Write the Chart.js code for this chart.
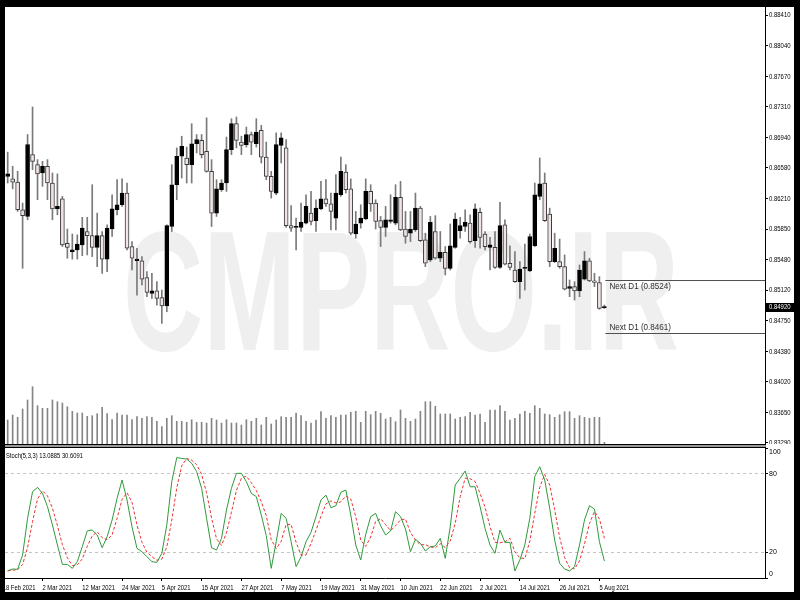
<!DOCTYPE html>
<html>
<head>
<meta charset="utf-8">
<title>EURGBP D1 - Stoch</title>
<script src="https://cdn.jsdelivr.net/npm/chart.js@4.4.1/dist/chart.umd.min.js"></script>
<style>
  html, body { margin: 0; padding: 0; background: #000; }
  #frame { position: relative; width: 800px; height: 600px; background: #000; overflow: hidden; }
  #win { position: absolute; left: 5px; top: 7px; width: 789px; height: 585px; background: #fff; }
  #main { position: absolute; left: 5px; top: 7px; }
  #stoch { position: absolute; left: 5px; top: 447px; }
  #sep { position: absolute; left: 5px; top: 444px; width: 761px; height: 2px;
         border-top: 1px solid #000; border-bottom: 1px solid #000; background: #9a9a9a; box-sizing: content-box; }
</style>
</head>
<body>
<div id="frame">
  <div id="win"></div>
  <canvas id="main" width="789" height="437"></canvas>
  <div id="sep"></div>
  <canvas id="stoch" width="789" height="145"></canvas>
</div>
<script>
// tick labels
const priceTicks = [0.88410, 0.88040, 0.87670, 0.87310, 0.86940, 0.86580, 0.86210, 0.85850,
                    0.85480, 0.85120, 0.84750, 0.84380, 0.84020, 0.83650, 0.83290];
const stochLevels = [0, 20, 80, 100];
const dateIndex = [-1, 7, 15, 23, 31, 39, 47, 55, 63, 71, 79, 87, 95, 103, 111, 119];
const dateLabels = ['18 Feb 2021', '2 Mar 2021', '12 Mar 2021', '24 Mar 2021', '5 Apr 2021',
                    '15 Apr 2021', '27 Apr 2021', '7 May 2021', '19 May 2021', '31 May 2021',
                    '10 Jun 2021', '22 Jun 2021', '2 Jul 2021', '14 Jul 2021', '26 Jul 2021', '5 Aug 2021'];

// daily candles, 19 Feb .. 6 Aug 2021
const open = [0.8648,0.8645,0.8641,0.8608,0.8600,0.8674,0.8662,0.8652,0.8660,0.8640,
  0.8609,0.8621,0.8568,0.8558,0.8560,0.8566,0.8582,0.8577,0.8563,0.8577,
  0.8549,0.8585,0.8608,0.8614,0.8628,0.8564,0.8547,0.8547,0.8527,0.8508,
  0.8511,0.8503,0.8493,0.8588,0.8638,0.8672,0.8670,0.8662,0.8687,0.8691,
  0.8678,0.8654,0.8604,0.8632,0.8640,0.8680,0.8711,0.8689,0.8686,0.8698,
  0.8687,0.8703,0.8671,0.8648,0.8628,0.8685,0.8682,0.8589,0.8587,0.8587,
  0.8592,0.8604,0.8595,0.8609,0.8621,0.8615,0.8598,0.8626,0.8653,0.8633,
  0.8579,0.8592,0.8597,0.8630,0.8616,0.8595,0.8587,0.8594,0.8592,0.8623,
  0.8585,0.8580,0.8584,0.8610,0.8572,0.8548,0.8582,0.8550,0.8557,0.8538,
  0.8563,0.8583,0.8588,0.8592,0.8571,0.8605,0.8579,0.8563,0.8563,0.8539,
  0.8590,0.8544,0.8536,0.8522,0.8538,0.8535,0.8565,0.8624,0.8640,0.8603,
  0.8546,0.8546,0.8540,0.8514,0.8516,0.8511,0.8525,0.8547,0.8523,0.8521,
  0.8491];
const high = [0.8677,0.8660,0.8654,0.8616,0.8698,0.8731,0.8668,0.8666,0.8668,0.8652,
  0.8651,0.8624,0.8585,0.8579,0.8578,0.8599,0.8599,0.8638,0.8604,0.8582,
  0.8590,0.8626,0.8644,0.8645,0.8640,0.8570,0.8562,0.8552,0.8534,0.8532,
  0.8522,0.8512,0.8590,0.8662,0.8682,0.8696,0.8683,0.8711,0.8698,0.8698,
  0.8718,0.8668,0.8644,0.8644,0.8695,0.8717,0.8719,0.8696,0.8707,0.8701,
  0.8717,0.8709,0.8689,0.8654,0.8700,0.8700,0.8692,0.8613,0.8598,0.8616,
  0.8626,0.8630,0.8620,0.8642,0.8644,0.8628,0.8650,0.8671,0.8662,0.8645,
  0.8606,0.8614,0.8645,0.8638,0.8620,0.8600,0.8612,0.8626,0.8638,0.8642,
  0.8606,0.8606,0.8628,0.8612,0.8580,0.8600,0.8601,0.8582,0.8564,0.8591,
  0.8604,0.8599,0.8608,0.8602,0.8615,0.8610,0.8582,0.8575,0.8582,0.8617,
  0.8596,0.8565,0.8558,0.8546,0.8567,0.8579,0.8640,0.8670,0.8652,0.8610,
  0.8580,0.8573,0.8554,0.8524,0.8522,0.8542,0.8558,0.8550,0.8532,0.8528,
  0.8494];
const low = [0.8640,0.8633,0.8606,0.8538,0.8596,0.8656,0.8620,0.8636,0.8620,0.8596,
  0.8602,0.8564,0.8550,0.8549,0.8549,0.8553,0.8554,0.8552,0.8540,0.8532,
  0.8534,0.8576,0.8602,0.8612,0.8560,0.8536,0.8506,0.8518,0.8504,0.8502,
  0.8494,0.8472,0.8486,0.8582,0.8620,0.8646,0.8640,0.8640,0.8676,0.8670,
  0.8653,0.8588,0.8600,0.8630,0.8630,0.8674,0.8682,0.8674,0.8683,0.8674,
  0.8683,0.8664,0.8644,0.8622,0.8626,0.8664,0.8587,0.8582,0.8560,0.8582,
  0.8591,0.8590,0.8582,0.8608,0.8612,0.8584,0.8584,0.8624,0.8628,0.8578,
  0.8574,0.8586,0.8596,0.8606,0.8585,0.8564,0.8576,0.8592,0.8590,0.8583,
  0.8568,0.8570,0.8582,0.8570,0.8540,0.8546,0.8549,0.8546,0.8530,0.8536,
  0.8562,0.8574,0.8582,0.8568,0.8563,0.8562,0.8560,0.8536,0.8538,0.8538,
  0.8542,0.8536,0.8521,0.8502,0.8512,0.8534,0.8564,0.8620,0.8594,0.8540,
  0.8545,0.8538,0.8512,0.8504,0.8500,0.8504,0.8524,0.8522,0.8516,0.8489,
  0.8490];
const close = [0.8651,0.8641,0.8608,0.8601,0.8686,0.8666,0.8651,0.8660,0.8640,0.8609,
  0.8612,0.8566,0.8563,0.8560,0.8567,0.8586,0.8577,0.8563,0.8577,0.8549,
  0.8586,0.8609,0.8614,0.8628,0.8562,0.8550,0.8549,0.8525,0.8509,0.8511,
  0.8502,0.8493,0.8589,0.8638,0.8672,0.8684,0.8662,0.8687,0.8692,0.8674,
  0.8654,0.8604,0.8633,0.8640,0.8680,0.8711,0.8691,0.8685,0.8698,0.8689,
  0.8701,0.8671,0.8648,0.8630,0.8686,0.8694,0.8589,0.8586,0.8588,0.8593,
  0.8612,0.8594,0.8610,0.8621,0.8615,0.8606,0.8628,0.8654,0.8632,0.8580,
  0.8591,0.8598,0.8630,0.8615,0.8594,0.8587,0.8596,0.8596,0.8623,0.8584,
  0.8576,0.8585,0.8610,0.8571,0.8544,0.8593,0.8550,0.8557,0.8538,0.8565,
  0.8597,0.8589,0.8593,0.8570,0.8609,0.8575,0.8564,0.8566,0.8539,0.8589,
  0.8543,0.8539,0.8522,0.8537,0.8539,0.8576,0.8626,0.8639,0.8595,0.8546,
  0.8562,0.8540,0.8513,0.8516,0.8511,0.8536,0.8547,0.8523,0.8521,0.8490,
  0.8492];
// tick volume (thousands)
const volume = [24,29,26.7,35,44,57.3,38.3,35.7,35.7,44,
  42.3,41,37.3,32.7,31,31,27.7,28.3,30.3,36.7,
  30.3,24.3,31,29,29,24.3,27.3,25.7,27.3,26.7,
  22.7,17.3,25.7,28.3,22.7,22.7,21.7,24.3,21.7,21.7,
  21,25.7,24,21,24.3,21,21,19,24.3,22.7,
  25.7,19,26.7,20,24,27.3,26.7,26.7,31,28.3,
  22.7,21,24,32.3,25.7,28.3,26.7,29,29,31.7,
  32.7,21.7,32.7,29.3,32.7,30.7,25,26.7,22.3,34,
  25.7,22.7,25,32.7,42.3,42.3,37.7,30,30,30,
  25,26.7,27.3,31.7,29,30,21.7,34,34,38.3,
  32.7,24,25.7,30,32.7,30.7,38.3,35.7,30,29.3,
  26.7,29.3,32.3,32.3,25.7,28.3,26.7,25.7,26.7,26.7,
  1.7];
// Stoch(5,3,3)
const stochK = [5.6,6.9,6.7,17.7,45.9,66.4,69.7,65.1,54.9,40.8,
  25.4,10.5,10.5,7.4,12.6,24.1,36.2,36.9,33.1,23.3,
  31.8,44.6,61.3,75.4,60.0,39.5,22.8,20.2,16.4,12.6,
  12.0,19.0,40.8,74.1,92.6,92.0,91.5,88.2,81.8,69.0,
  45.9,23.3,21.5,30.5,52.3,69.0,80.5,80.5,74.1,65.1,
  62.6,48.4,32.6,7.4,27.9,49.7,45.9,27.9,8.7,16.4,
  27.9,35.1,47.2,60.0,63.8,54.1,55.6,65.9,67.7,48.4,
  25.4,13.8,33.6,47.2,49.7,40.2,33.1,36.2,51.0,47.2,
  37.7,20.2,29.7,26.7,20.8,24.1,24.6,30.5,15.1,39.5,
  71.5,76.7,82.3,70.2,70.2,54.9,38.2,25.4,19.0,36.9,
  27.4,27.4,5.4,13.8,25.4,45.9,78.0,85.6,75.4,53.6,
  29.2,11.3,6.9,5.4,8.7,25.4,44.6,55.6,53.1,27.9,
  13.0885];
const stochD = [5.5,6.0,6.4,10.4,23.4,43.3,60.7,67.1,63.2,53.6,
  40.4,25.6,15.5,9.5,10.2,14.7,24.3,32.4,35.4,31.1,
  29.4,33.2,45.9,60.4,65.6,58.3,40.8,27.5,19.8,16.4,
  13.7,14.5,23.9,44.6,69.2,86.2,92.0,90.6,87.2,79.7,
  65.6,46.1,30.2,25.1,34.8,50.6,67.3,76.7,78.4,73.2,
  67.3,58.7,47.9,29.5,22.6,28.3,41.2,41.2,27.5,17.7,
  17.7,26.5,36.7,47.4,57.0,59.3,57.8,58.5,63.1,60.7,
  47.2,29.2,24.3,31.5,43.5,45.7,41.0,36.5,40.1,44.8,
  45.3,35.0,29.2,25.5,25.7,23.9,23.2,26.4,23.4,28.4,
  42.0,62.6,76.8,76.4,74.2,65.1,54.4,39.5,27.5,27.1,
  27.8,30.6,20.1,15.5,14.9,28.4,49.8,69.8,79.7,71.5,
  52.7,31.4,15.8,7.9,7.0,13.2,26.2,41.9,51.1,45.5,
  30.6091];
const nextD1 = [0.8524, 0.8461];
const lastPrice = 0.84920;

const X_MIN = -0.54, X_MAX = 152.3;
const FONT = '"Liberation Sans", Arial, sans-serif';
Chart.defaults.font.family = FONT;
Chart.defaults.color = '#000';

// small condensed text, like the squeezed terminal font
function narrowText(ctx, text, x, y, size, sx, baseline, color) {
    ctx.save();
    ctx.font = size + 'px ' + FONT;
    ctx.fillStyle = color || '#000';
    ctx.textAlign = 'left';
    ctx.textBaseline = baseline || 'middle';
    ctx.translate(x, y);
    ctx.scale(sx, 1);
    ctx.fillText(text, 0, 0);
    ctx.restore();
}

// watermark + Next D1 levels + price labels + current price box
const mainDecor = {
    id: 'mainDecor',
    beforeDatasetsDraw(chart) {
        const ctx = chart.ctx;
        ctx.save();
        ctx.font = 'bold 170px ' + FONT;
        const w = ctx.measureText('CMPRO.IR').width;
        ctx.translate(396, 343);
        ctx.scale(556 / w, 1);
        ctx.fillStyle = '#efefef';
        ctx.textAlign = 'center';
        ctx.textBaseline = 'alphabetic';
        ctx.fillText('CMPRO.IR', 0, 0);
        ctx.restore();
    },
    afterDraw(chart) {
        const ctx = chart.ctx;
        const xs = chart.scales.x, ys = chart.scales.y;
        const area = chart.chartArea;
        const x0 = xs.getPixelForValue(close.length - 1) + 1;

        ys.ticks.forEach(t => {
            narrowText(ctx, t.value.toFixed(5), area.right + 4, ys.getPixelForValue(t.value) + 0.5, 7, 0.85);
        });

        nextD1.forEach((lvl, k) => {
            const y = Math.round(ys.getPixelForValue(lvl)) + 0.5;
            ctx.save();
            ctx.strokeStyle = '#505050';
            ctx.lineWidth = 1;
            ctx.beginPath();
            ctx.moveTo(x0, y);
            ctx.lineTo(area.right, y);
            ctx.stroke();
            ctx.restore();
            narrowText(ctx, 'Next D1 (' + lvl.toFixed(4) + ')', x0 + 4,
                       k === 0 ? y + 2 : y - 1, 9, 0.9, k === 0 ? 'top' : 'bottom', '#303030');
        });

        const py = Math.round(ys.getPixelForValue(lastPrice));
        ctx.fillStyle = '#000';
        ctx.fillRect(area.right + 1, py - 4, chart.width - area.right - 1, 9);
        narrowText(ctx, lastPrice.toFixed(5), area.right + 4, py + 0.5, 7, 0.85, 'middle', '#fff');
    }
};

const up = close.map((c, i) => c >= open[i]);

new Chart(document.getElementById('main'), {
    type: 'bar',
    data: {
        datasets: [
            {
                label: 'body',
                data: close.map((c, i) => ({ x: i, y: [open[i], c] })),
                backgroundColor: up.map(u => u ? '#000' : '#f0e4e4'),
                borderColor: up.map(u => u ? '#000' : '#3a3a3a'),
                borderWidth: 1,
                borderSkipped: false,
                barThickness: 4,
                minBarLength: 1,
                grouped: false,
                order: 0
            },
            {
                label: 'wick',
                data: high.map((h, i) => ({ x: i, y: [low[i], h] })),
                backgroundColor: '#7a7a7a',
                barThickness: 1,
                grouped: false,
                order: 1
            },
            {
                label: 'volume',
                yAxisID: 'vol',
                data: volume.map((v, i) => ({ x: i, y: v })),
                backgroundColor: '#858585',
                barThickness: 1,
                grouped: false,
                order: 2
            }
        ]
    },
    options: {
        responsive: false,
        animation: false,
        events: [],
        layout: { padding: 0 },
        plugins: { legend: { display: false }, tooltip: { enabled: false } },
        scales: {
            x: { type: 'linear', min: X_MIN, max: X_MAX, offset: false, display: false },
            y: {
                position: 'right',
                min: 0.83278,
                max: 0.88506,
                afterBuildTicks: s => { s.ticks = priceTicks.map(v => ({ value: v })); },
                afterFit: s => { s.width = 29; s.paddingTop = 0; s.paddingBottom = 0; },
                ticks: { display: false, autoSkip: false },
                grid: { drawOnChartArea: false, tickLength: 3, tickColor: '#000' },
                border: { color: '#000' }
            },
            vol: { type: 'linear', axis: 'y', position: 'left', display: false, min: 0, max: 437 }
        }
    },
    plugins: [mainDecor]
});

// title + date labels of the lower pane
const stochDecor = {
    id: 'stochDecor',
    afterDraw(chart) {
        const ctx = chart.ctx;
        const xs = chart.scales.x;
        narrowText(ctx, 'Stoch(5,3,3) ' + stochK[stochK.length - 1].toFixed(4) + ' ' +
                   stochD[stochD.length - 1].toFixed(4), 1, 9, 7, 0.83);
        xs.ticks.forEach((t, i) => {
            narrowText(ctx, dateLabels[i], xs.getPixelForValue(t.value), chart.chartArea.bottom + 9.5, 7.5, 0.78);
        });
    }
};

new Chart(document.getElementById('stoch'), {
    type: 'line',
    data: {
        datasets: [
            {
                label: 'Main',
                data: stochK.map((v, i) => ({ x: i, y: v })),
                borderColor: '#2f9a3a',
                borderWidth: 1,
                pointRadius: 0,
                tension: 0
            },
            {
                label: 'Signal',
                data: stochD.map((v, i) => ({ x: i, y: v })),
                borderColor: '#f03030',
                borderWidth: 1,
                borderDash: [3, 2],
                pointRadius: 0,
                tension: 0
            }
        ]
    },
    options: {
        responsive: false,
        animation: false,
        events: [],
        layout: { padding: { top: 1 } },
        plugins: { legend: { display: false }, tooltip: { enabled: false } },
        scales: {
            x: {
                type: 'linear', min: X_MIN, max: X_MAX, offset: false,
                afterBuildTicks: s => { s.ticks = dateIndex.map(v => ({ value: v })); },
                afterFit: s => { s.height = 14; s.paddingLeft = 0; s.paddingRight = 0; },
                ticks: { display: false, autoSkip: false },
                grid: { drawOnChartArea: false, tickLength: 3, tickColor: '#000' },
                border: { color: '#000' }
            },
            y: {
                position: 'right', min: 0, max: 100,
                afterBuildTicks: s => { s.ticks = stochLevels.map(v => ({ value: v })); },
                afterFit: s => { s.width = 29; s.paddingTop = 0; s.paddingBottom = 0; },
                ticks: {
                    callback: v => v === 100 ? ['', '100'] : (v === 0 ? ['0', ''] : String(v)),
                    font: { size: 7 }, padding: 1, autoSkip: false
                },
                grid: {
                    color: c => (c.tick && (c.tick.value === 20 || c.tick.value === 80)) ? '#c4c4c4' : 'rgba(0,0,0,0)',
                    tickColor: '#000', tickLength: 3
                },
                border: { color: '#000', dash: [3, 3] }
            }
        }
    },
    plugins: [stochDecor]
});
</script>
</body>
</html>
